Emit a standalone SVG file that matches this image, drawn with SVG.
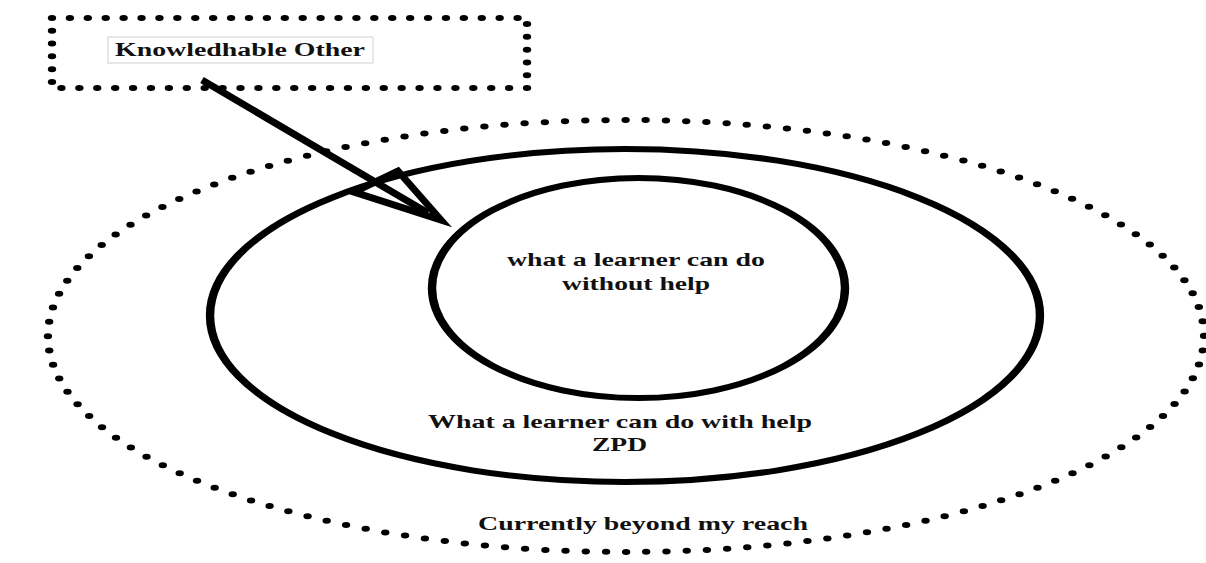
<svg xmlns="http://www.w3.org/2000/svg" width="1206" height="563" viewBox="0 0 1206 563">
  <style>
    .label { font-family: "Liberation Serif", "Times New Roman", serif; font-weight: bold; fill: #111; }
    .dotted { fill: none; stroke: #000; stroke-width: 6; stroke-linecap: round; stroke-dasharray: 0 1; }
    .ring { fill: none; stroke: #000; stroke-width: 6; }
  </style>
  <rect width="1206" height="563" fill="#ffffff"/>

  <!-- Outer zone: currently beyond reach (dotted, drawn in a wide-stretched frame) -->
  <g id="node-beyond">
    <g transform="translate(626,336) scale(1.4,1)">
      <ellipse class="dotted" cx="0" cy="0" rx="412.9" ry="216" pathLength="140"/>
    </g>
    <text class="label" x="643" y="530" font-size="19" text-anchor="middle" textLength="330" lengthAdjust="spacingAndGlyphs">Currently beyond my reach</text>
  </g>

  <!-- Middle zone: ZPD -->
  <g id="node-zpd">
    <g transform="translate(625,315.5) scale(1.4,1)">
      <ellipse class="ring" cx="0" cy="0" rx="296.4" ry="166.5"/>
    </g>
    <text class="label" x="620" y="428" font-size="19" text-anchor="middle" textLength="384" lengthAdjust="spacingAndGlyphs">What a learner can do with help</text>
    <text class="label" x="619.5" y="451" font-size="19" text-anchor="middle" textLength="55" lengthAdjust="spacingAndGlyphs">ZPD</text>
  </g>

  <!-- Inner zone: independent ability -->
  <g id="node-independent">
    <g transform="translate(638.5,288) scale(1.4,1)">
      <ellipse class="ring" cx="0" cy="0" rx="147.5" ry="110"/>
    </g>
    <text class="label" x="636" y="266" font-size="19" text-anchor="middle" textLength="258" lengthAdjust="spacingAndGlyphs">what a learner can do</text>
    <text class="label" x="636" y="290" font-size="19" text-anchor="middle" textLength="148" lengthAdjust="spacingAndGlyphs">without help</text>
  </g>

  <!-- Knowledgeable other box -->
  <g id="node-knowledgeable-other">
    <g transform="translate(52,18) scale(1.4,1)">
      <rect class="dotted" x="0" y="0" width="339.3" height="70" pathLength="64" stroke-width="7"/>
    </g>
    <rect x="108" y="37" width="265" height="26" fill="#ffffff" stroke="#cfcfcf" stroke-width="1"/>
    <text class="label" x="240" y="56" font-size="18" text-anchor="middle" textLength="250" lengthAdjust="spacingAndGlyphs">Knowledhable Other</text>
  </g>

  <!-- Connector: knowledgeable other into the learner's zones -->
  <g id="connectors">
    <line x1="202" y1="80" x2="428" y2="213" stroke="#000" stroke-width="7"/>
    <polygon points="398,171 441,220 354,192" fill="none" stroke="#000" stroke-width="7" stroke-linejoin="miter" stroke-miterlimit="6"/>
  </g>
</svg>
